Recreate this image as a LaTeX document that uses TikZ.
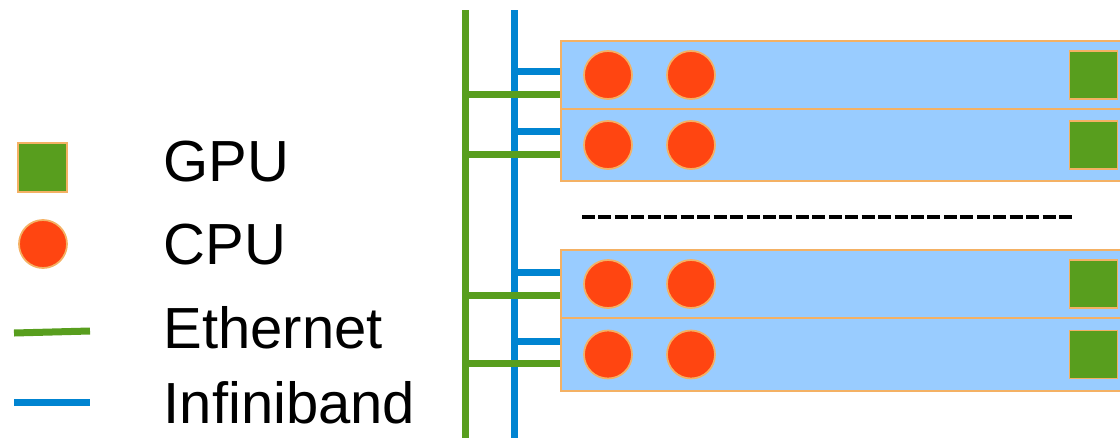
\documentclass[tikz,border=0pt]{standalone}
\usepackage{fontspec}
\setmainfont{Liberation Sans}
\usepackage{xcolor}
\usetikzlibrary{calc,positioning}
\definecolor{ethgreen}{RGB}{88,158,30}
\definecolor{ibblue}{RGB}{0,132,209}
\definecolor{boardblue}{RGB}{153,204,255}
\definecolor{cpured}{RGB}{255,69,17}
\definecolor{rim}{RGB}{244,177,100}

\tikzset{
  board/.style={draw=rim,fill=boardblue,line width=0.5pt,minimum width=5.64cm,inner sep=0pt},
  cpu/.style={circle,draw=rim,fill=cpured,line width=0.5pt,minimum size=0.48cm,inner sep=0pt},
  gpu/.style={rectangle,draw=rim,fill=ethgreen,line width=0.5pt,minimum size=0.48cm,inner sep=0pt},
  eth/.style={ethgreen,line width=0.07cm},
  ib/.style={ibblue,line width=0.07cm},
  lbl/.style={anchor=base west,font=\fontsize{16.5}{20}\selectfont,inner sep=0pt}
}

\begin{document}
\begin{tikzpicture}
\useasboundingbox (0,0) rectangle (11.2,4.38);
% legend
\node[gpu,minimum size=0.49cm] (lgpu) at (0.425,2.705) {};
\node[cpu] (lcpu) at (0.43,1.94) {};
\draw[eth] (0.14,1.05) -- (0.90,1.07);
\draw[ib] (0.14,0.36) -- (0.90,0.36);
\node[lbl] at (1.63,2.57) {GPU};
\node[lbl] at (1.63,1.74) {CPU};
\node[lbl] at (1.63,0.90) {Ethernet};
\node[lbl] at (1.63,0.15) {Infiniband};

% buses
\coordinate (ethtop) at (4.655,4.28);
\coordinate (ethbot) at (4.655,0);
\coordinate (ibtop) at (5.14,4.28);
\coordinate (ibbot) at (5.14,0);
\draw[eth] (ethtop) -- (ethbot);
\draw[ib] (ibtop) -- (ibbot);

% nodes
\foreach \n/\y/\h/\yib/\yeth in {1/3.63/0.68/3.67/3.44, 2/2.93/0.72/3.07/2.84,
                                  3/1.54/0.68/1.66/1.43, 4/0.835/0.73/0.97/0.75}{
  \node[board,minimum height=\h cm] (b\n) at (8.43,\y) {};
  \node[cpu] (c\n a) at (6.08,\y) {};
  \node[cpu] (c\n b) at (6.91,\y) {};
  \node[gpu] (g\n) at (10.935,\y) {};
  \draw[ib] (ibtop |- 0,\yib) -- (b\n.west |- 0,\yib);
  \draw[eth] (ethtop |- 0,\yeth) -- (b\n.west |- 0,\yeth);
}

% more nodes in between
\draw[line width=0.04cm,dash pattern=on 0.13cm off 0.0345cm] (5.82,2.21) -- (10.72,2.21);
\end{tikzpicture}
\end{document}
